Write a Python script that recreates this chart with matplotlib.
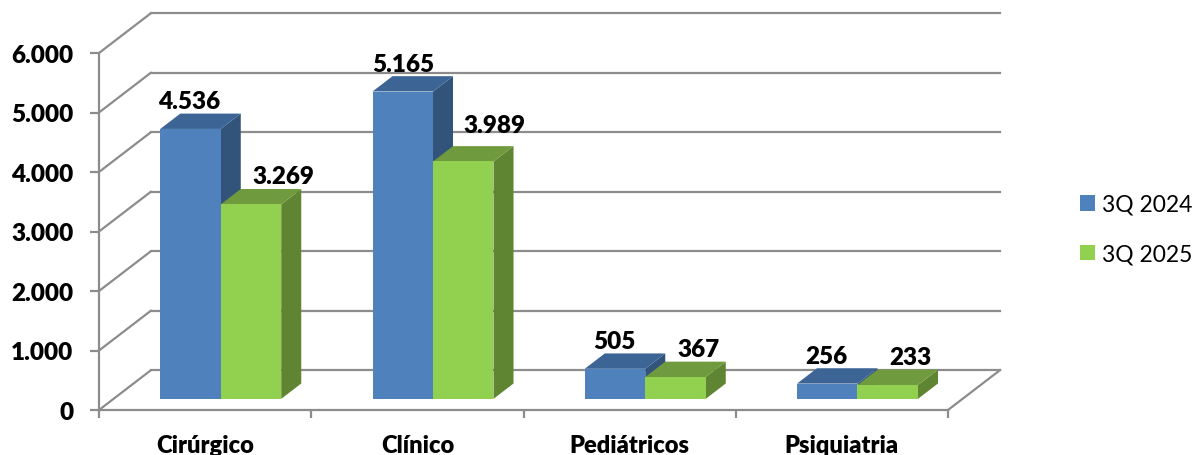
import matplotlib
matplotlib.use("Agg")
import matplotlib.pyplot as plt
from matplotlib.patches import Patch

plt.rcParams['font.family'] = ['Lato', 'DejaVu Sans']

categories = ['Cirúrgico', 'Clínico', 'Pediátricos', 'Psiquiatria']
series_names = ['3Q 2024', '3Q 2025']
values_2024 = [4536, 5165, 505, 256]
values_2025 = [3269, 3989, 367, 233]
y_ticks = [0, 1000, 2000, 3000, 4000, 5000, 6000]
y_tick_labels = ['0', '1.000', '2.000', '3.000', '4.000', '5.000', '6.000']
bar_labels_2024 = ['4.536', '5.165', '505', '256']
bar_labels_2025 = ['3.269', '3.989', '367', '233']

GRID = '#8c8c8c'
BLUE = ('#4f81bd', '#3c6494', '#32537a')    # front, top, side
GREEN = ('#92d050', '#6f9a3d', '#5f8532')
WEIGHT = 'heavy'

# fake 3D: how far the back wall is shifted, in data units
WALL_DX = 0.245
WALL_DY = 670
BAR_WIDTH = 0.285
DEPTH_FRONT = 0.28
DEPTH_BACK = 0.665
BAR_SHIFT = 0.005

# label shifts in pixels from the bar front centre, one per category
shift_2024 = [(-1, 17), (0, 17), (-1, 17), (-1, 17)]
shift_2025 = [(32, 17), (31, 25), (23, 17), (23, 17)]


def project(x, y, depth):
    return x + depth * WALL_DX, y + depth * WALL_DY


fig = plt.figure(figsize=(11.94, 4.56), dpi=100)
ax = fig.add_axes([99 / 1194, 45 / 456, 849 / 1194, 357 / 456])
ax.set_xlim(0, 4)
ax.set_ylim(0, 6000)
ax.patch.set_visible(False)


def draw_bar(left, value, colors, labeltext, shift):
    right = left + BAR_WIDTH
    corners = [
        # side, top, then front so the edges overlap cleanly
        ([(right, 0, DEPTH_FRONT), (right, 0, DEPTH_BACK), (right, value, DEPTH_BACK), (right, value, DEPTH_FRONT)], colors[2]),
        ([(left, value, DEPTH_FRONT), (right, value, DEPTH_FRONT), (right, value, DEPTH_BACK), (left, value, DEPTH_BACK)], colors[1]),
        ([(left, 0, DEPTH_FRONT), (right, 0, DEPTH_FRONT), (right, value, DEPTH_FRONT), (left, value, DEPTH_FRONT)], colors[0]),
    ]
    for pts, color in corners:
        xy = [project(*p) for p in pts]
        ax.fill([p[0] for p in xy], [p[1] for p in xy], color=color, lw=0, zorder=3, clip_on=False)
    fx, fy = project(left + BAR_WIDTH / 2, value, DEPTH_FRONT)
    ax.annotate(labeltext, (fx, fy), xytext=shift, textcoords='offset pixels', ha='center', va='bottom',
                fontsize=17.5, fontweight=WEIGHT, color='black', zorder=5, annotation_clip=False)


# walls
for tick in y_ticks:
    bx, by = project(0, tick, 1)
    ax.plot([0, bx], [tick, by], color=GRID, lw=1.6, clip_on=False, zorder=1, solid_capstyle='round')
    ax.plot([bx, 4 + WALL_DX], [by, by], color=GRID, lw=1.6, clip_on=False, zorder=1)
ex, ey = project(4, 0, 1)
ax.plot([4, ex], [0, ey], color=GRID, lw=1.6, clip_on=False, zorder=1)

for i in range(len(categories)):
    center = i + 0.5 + BAR_SHIFT
    draw_bar(center - BAR_WIDTH, values_2024[i], BLUE, bar_labels_2024[i], shift_2024[i])
    draw_bar(center, values_2025[i], GREEN, bar_labels_2025[i], shift_2025[i])

for side in ['top', 'right']:
    ax.spines[side].set_visible(False)
for side in ['left', 'bottom']:
    ax.spines[side].set_color(GRID)
    ax.spines[side].set_linewidth(1.6)

ax.set_yticks(y_ticks)
ax.set_yticklabels(y_tick_labels)
ax.set_xticks(range(len(categories) + 1))
ax.set_xticklabels([])
ax.set_xticks([i + 0.5 for i in range(len(categories))], categories, minor=True)
ax.tick_params(axis='y', length=6.5, width=1.6, color=GRID, pad=12, labelsize=17.5)
ax.tick_params(axis='x', which='major', length=6, width=1.6, color=GRID)
ax.tick_params(axis='x', which='minor', length=0, pad=17, labelsize=17)
for lab in ax.get_yticklabels() + ax.get_xticklabels(minor=True):
    lab.set_fontweight(WEIGHT)
    lab.set_color('black')

handles = [Patch(color=BLUE[0], lw=0), Patch(color=GREEN[0], lw=0)]
fig.legend(handles, series_names, loc='upper left', bbox_to_anchor=(1080 / 1194, 1 - 195 / 456),
           frameon=False, fontsize=16.5, handlelength=0.65, handleheight=0.65, handletextpad=0.3,
           labelspacing=1.25, borderpad=0, borderaxespad=0)

fig.savefig('out.png', dpi=100)
